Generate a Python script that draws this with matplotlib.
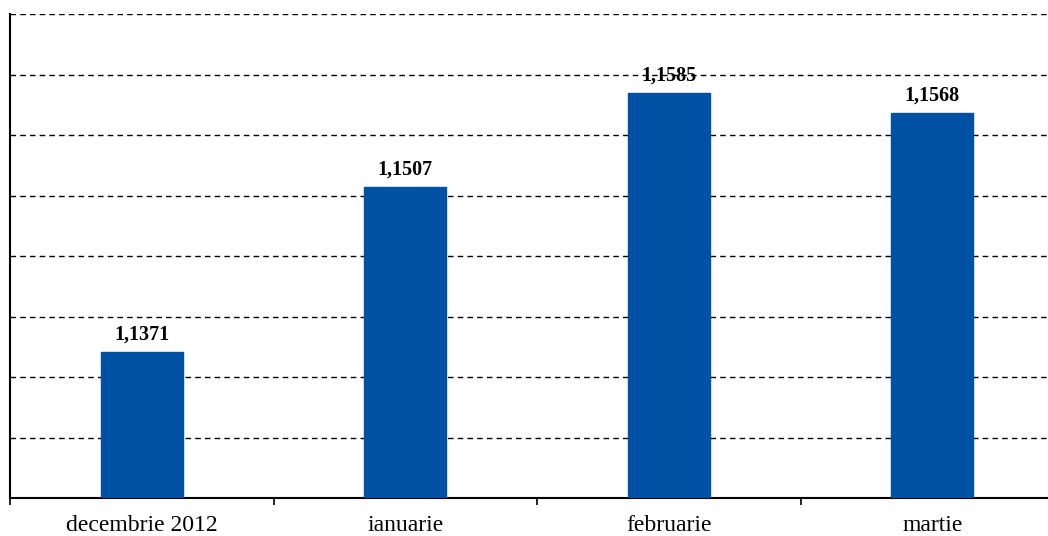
import matplotlib.pyplot as plt
import numpy as np

categories = ['decembrie 2012', 'ianuarie', 'februarie', 'martie']
values = [1.1371, 1.1507, 1.1585, 1.1568]
labels = ['1,1371', '1,1507', '1,1585', '1,1568']

plt.rcParams['font.family'] = ['Liberation Serif', 'DejaVu Serif']

fig = plt.figure(figsize=(10.48, 5.36), dpi=100)
# axes runs off the right edge, like the cropped original
ax = fig.add_axes([10 / 1048, 38 / 536, 1054 / 1048, 484 / 536])

x = np.arange(len(categories))
ymin = 1.125
bars = ax.bar(x, np.array(values) - ymin, bottom=ymin, width=0.31,
              color='#0050A4', edgecolor='#0050A4', zorder=3)

for xi, v, lab in zip(x, values, labels):
    ax.text(xi, v + 0.0006, lab, ha='center', va='bottom',
            fontsize=14.5, fontweight='bold', zorder=4)

ax.set_xlim(-0.5, 3.5)
ax.set_ylim(ymin, 1.165)
ax.set_yticks(np.arange(1.125, 1.1651, 0.005))
ax.set_yticklabels([])
ax.tick_params(axis='y', length=0)
ax.yaxis.grid(True, linestyle=(0, (4, 3)), color='black', linewidth=1, zorder=0)

ax.set_xticks(x)
ax.set_xticklabels(categories, fontsize=17)
ax.tick_params(axis='x', length=0, pad=12)
ax.set_xticks(np.arange(-0.5, 4.0, 1.0), minor=True)
ax.tick_params(axis='x', which='minor', length=5, width=1.2, direction='out')

for s in ['top', 'right']:
    ax.spines[s].set_visible(False)
ax.spines['left'].set_linewidth(1.5)
ax.spines['bottom'].set_linewidth(1.5)

fig.savefig('out.png', dpi=100)
